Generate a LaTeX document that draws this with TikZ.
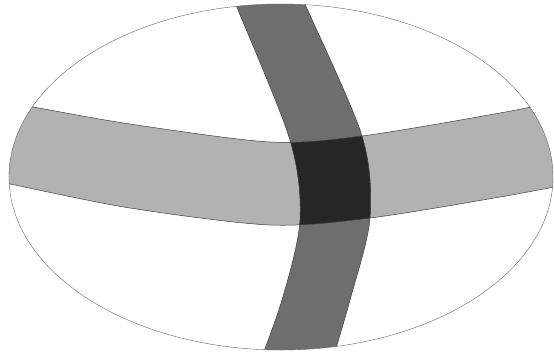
\documentclass[tikz,border=0pt]{standalone}
\usepackage{tikz}
\usetikzlibrary{calc}

\begin{document}
\begin{tikzpicture}[
    x=1pt, y=-1pt,
    hfill/.style={fill=black!30},
    vfill/.style={fill=black!57},
    xfill/.style={fill=black!85},
    edge/.style={draw=black!75, line width=0.5pt},
    rim/.style={draw=black!60, line width=0.4pt}
]
    \useasboundingbox (0,0) rectangle (554,351);
    \coordinate (c) at (281,177);

    \begin{scope}
        \clip (c) ellipse [x radius=272, y radius=173];
        % horizontal band
        \path[hfill] plot[smooth] coordinates {(-20,98) (33,107) (130,124) (270,142) (362,136) (500,113) (580,97)}
            -- plot[smooth] coordinates {(580,182) (500,197) (370,218) (270,225) (130,208) (10,184) (-20,178)} -- cycle;
        % vertical band
        \path[vfill] plot[smooth] coordinates {(226,-20) (236,5) (290,140) (300,220) (282,300) (255,375)}
            -- plot[smooth] coordinates {(328,375) (350,300) (370,218) (362,136) (305,4) (295,-20)} -- cycle;
        % crossing
        \begin{scope}
            \clip plot[smooth] coordinates {(-20,98) (33,107) (130,124) (270,142) (362,136) (500,113) (580,97)}
                -- plot[smooth] coordinates {(580,182) (500,197) (370,218) (270,225) (130,208) (10,184) (-20,178)} -- cycle;
            \path[xfill] plot[smooth] coordinates {(226,-20) (236,5) (290,140) (300,220) (282,300) (255,375)}
                -- plot[smooth] coordinates {(328,375) (350,300) (370,218) (362,136) (305,4) (295,-20)} -- cycle;
        \end{scope}
        % band edges
        \draw[edge] plot[smooth] coordinates {(-20,98) (33,107) (130,124) (270,142) (362,136) (500,113) (580,97)};
        \draw[edge] plot[smooth] coordinates {(580,182) (500,197) (370,218) (270,225) (130,208) (10,184) (-20,178)};
        \draw[edge] plot[smooth] coordinates {(226,-20) (236,5) (290,140) (300,220) (282,300) (255,375)};
        \draw[edge] plot[smooth] coordinates {(328,375) (350,300) (370,218) (362,136) (305,4) (295,-20)};
    \end{scope}

    \draw[rim] (c) ellipse [x radius=272, y radius=173];
\end{tikzpicture}
\end{document}
